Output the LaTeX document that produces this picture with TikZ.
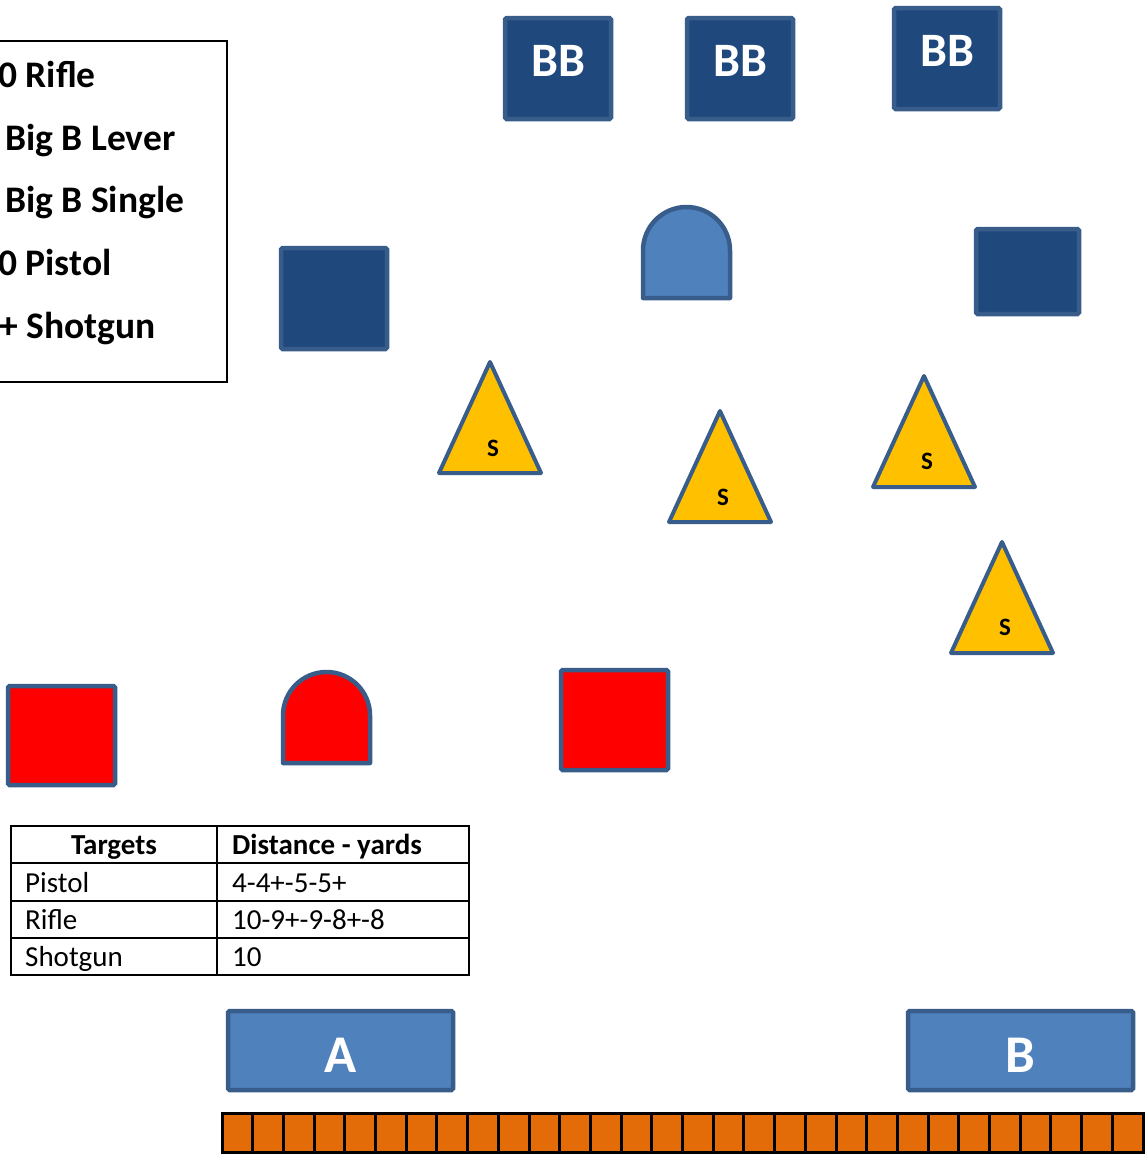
\documentclass[tikz,border=0pt]{standalone}
\usepackage{fontspec}
\setmainfont{Carlito}
\definecolor{dkblue}{HTML}{1F497D}
\definecolor{ltblue}{HTML}{4F81BD}
\definecolor{edgeblue}{HTML}{385D8A}
\definecolor{trifill}{HTML}{FFC000}
\definecolor{fenceor}{HTML}{E36C09}
\definecolor{redfill}{HTML}{FF0000}
\begin{document}
\begin{tikzpicture}[x=1pt,y=-1pt,
  shape base/.style={draw=edgeblue,line width=4.5pt,rounded corners=1.5pt,inner sep=0pt},
  bbsq/.style={shape base,fill=dkblue,minimum width=106pt,minimum height=101pt},
  bbtext/.style={inner sep=0pt,text=white,font=\bfseries\fontsize{48}{52}\selectfont},
  plainsq/.style={shape base,fill=dkblue},
  redsq/.style={shape base,fill=redfill},
  bay/.style={shape base,fill=ltblue,minimum width=225pt,minimum height=79pt},
  baytext/.style={inner sep=0pt,text=white,font=\bfseries\fontsize{53}{56}\selectfont},
  tri/.style={draw=edgeblue,line width=4pt,fill=trifill,line join=round},
  slabel/.style={inner sep=0pt,font=\bfseries\fontsize{25}{28}\selectfont},
  arch/.style={draw=edgeblue,line width=4.5pt,line join=round},
  legtext/.style={anchor=base west,inner sep=0pt,font=\bfseries\fontsize{37.5}{40}\selectfont},
  tabhead/.style={anchor=base,inner sep=0pt,font=\bfseries\fontsize{29}{32}\selectfont},
  tabcell/.style={anchor=base west,inner sep=0pt,font=\fontsize{29}{32}\selectfont},
  fence/.style={draw=black,line width=3pt,fill=fenceor}
]
\clip (0,0) rectangle (1147,1154);
\fill[white] (0,0) rectangle (1147,1154);

% legend box
\draw[black,line width=2pt] (-10,41) rectangle (227,382);
\node[legtext] (l1) at (-2,87) {0 Rifle};
\node[legtext] (l2) at (5,150) {Big B Lever};
\node[legtext] (l3) at (5,212.5) {Big B Single};
\node[legtext] (l4) at (-2,275) {0 Pistol};
\node[legtext] (l5) at (-1,338.5) {+ Shotgun};

% BB targets
\node[bbsq] (bb1) at (558,68.5) {};
\node[bbtext] (bbt1) at (558,61) {BB};
\node[bbsq] (bb2) at (740,68.5) {};
\node[bbtext] (bbt2) at (740,61) {BB};
\node[bbsq] (bb3) at (947,58.5) {};
\node[bbtext] (bbt3) at (947,51) {BB};

% plain dark squares
\node[plainsq,minimum width=106pt,minimum height=101pt] (sq1) at (334,298.5) {};
\node[plainsq,minimum width=103pt,minimum height=85pt] (sq2) at (1027.5,271.5) {};

% light blue arch
\draw[arch,fill=ltblue] (643,298) -- (643,250.5) arc[start angle=180,end angle=0,radius=43.5pt] -- (730,298) -- cycle;

% triangles
\draw[tri] (490,362) -- (541,473) -- (439,473) -- cycle;
\node[slabel] (s1) at (493,448) {S};
\draw[tri] (720,411) -- (771,522) -- (669,522) -- cycle;
\node[slabel] (s2) at (723,497) {S};
\draw[tri] (924,376) -- (975,487) -- (873,487) -- cycle;
\node[slabel] (s3) at (927,461) {S};
\draw[tri] (1002,542) -- (1053,653) -- (951,653) -- cycle;
\node[slabel] (s4) at (1005,627) {S};

% red targets
\node[redsq,minimum width=107pt,minimum height=99pt] (r1) at (61.5,735.5) {};
\node[redsq,minimum width=107pt,minimum height=100pt] (r2) at (614.5,720) {};
\draw[arch,fill=redfill] (283,763) -- (283,715.5) arc[start angle=180,end angle=0,radius=43.5pt] -- (370,763) -- cycle;

% table
\draw[black,line width=2pt] (11,826) rectangle (469,975);
\draw[black,line width=2pt] (217,826) -- (217,975);
\draw[black,line width=2pt] (11,863) -- (469,863);
\draw[black,line width=2pt] (11,901) -- (469,901);
\draw[black,line width=2pt] (11,938) -- (469,938);
\node[tabhead] (h1) at (114,854) {Targets};
\node[tabhead,anchor=base west] (h2) at (232,854) {Distance - yards};
\node[tabcell] (c11) at (25,892) {Pistol};
\node[tabcell] (c12) at (232,892) {4-4+-5-5+};
\node[tabcell] (c21) at (25,929) {Rifle};
\node[tabcell] (c22) at (232,929) {10-9+-9-8+-8};
\node[tabcell] (c31) at (25,966) {Shotgun};
\node[tabcell] (c32) at (232,966) {10};

% shooting bays
\node[bay] (bayA) at (340.5,1050.5) {};
\node[baytext] (bayAt) at (340.5,1055) {A};
\node[bay] (bayB) at (1020.5,1050.5) {};
\node[baytext] (bayBt) at (1020.5,1055) {B};

% fence
\foreach \i in {0,...,29} {
  \draw[fence] ({222+\i*30.7},1113) rectangle ({222+(\i+1)*30.7},1152);
}
\end{tikzpicture}
\end{document}
